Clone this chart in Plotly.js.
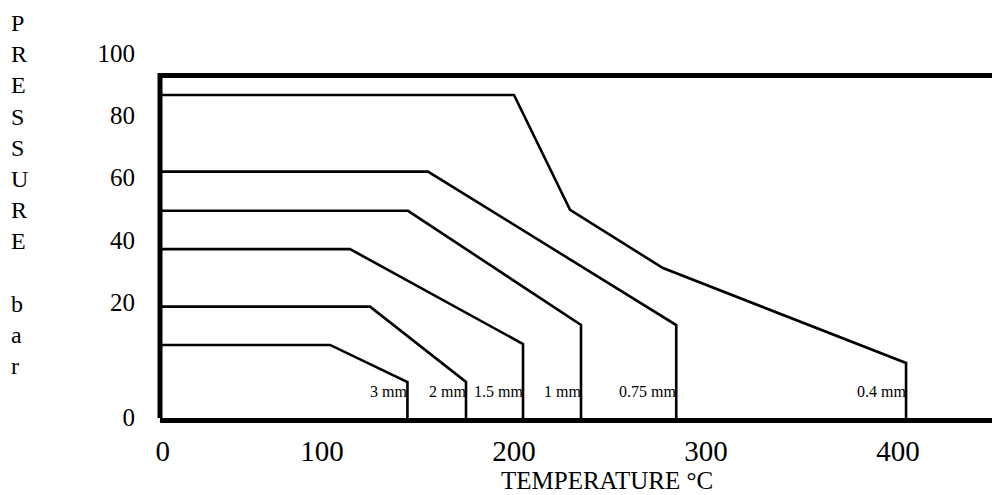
<!DOCTYPE html>
<html>
<head>
<meta charset="utf-8">
<script src="https://cdn.plot.ly/plotly-3.0.1.min.js"></script>
<style>html,body{margin:0;padding:0;background:#fff;}#chart{width:992px;height:495px;}</style>
</head>
<body>
<div id="chart"></div>
<script>
// ---- data ----
const thicknessLabels = ['3 mm', '2 mm', '1.5 mm', '1 mm', '0.75 mm', '0.4 mm'];
// temperature (°C) of each corner of a curve, starting at the end of its flat plateau
const cornerTemps = [
  [104.2, 144.5],
  [125.0, 175.0],
  [114.6, 204.7],
  [144.8, 234.9],
  [155.2, 284.5],
  [200.0, 229.2, 277.6, 404.2]
];
// pressure (bar) at each of those corners (first value = plateau pressure)
const cornerPressures = [
  [6.2, -5.7],
  [18.5, -5.7],
  [37.0, 6.5],
  [49.3, 12.6],
  [61.9, 12.6],
  [86.5, 49.6, 30.9, 0.4]
];
const xTickVals = [17.0, 100, 200, 300, 400];
const xTickText = ['0', '100', '200', '300', '400'];
const yTickVals = [-16.95, 20, 40, 60, 80, 100];
const yTickText = ['0', '20', '40', '60', '80', '100'];

// ---- axes / frame ----
const xRange = [15.625, 448.96];
const yRange = [-17.27, 107.39];
const frameTop = 92.77;
const FONT = 'Liberation Serif, Times New Roman, serif';

const traces = cornerTemps.map((temps, i) => {
  const ps = cornerPressures[i];
  return {
    type: 'scatter', mode: 'lines',
    x: [xRange[0]].concat(temps, [temps[temps.length - 1]]),
    y: [ps[0]].concat(ps, [yRange[0]]),
    line: {color: '#000', width: 2.6},
    hoverinfo: 'skip', showlegend: false, cliponaxis: false
  };
});

const annotations = cornerTemps.map((temps, i) => ({
  xref: 'x', yref: 'y', x: temps[temps.length - 1], y: -8.7,
  xanchor: 'right', yanchor: 'middle', showarrow: false,
  text: thicknessLabels[i], font: {family: FONT, size: 16, color: '#000'},
  borderpad: 0, borderwidth: 0
}));
annotations.push({
  xref: 'paper', yref: 'paper', x: -0.181, y: 0.575, xanchor: 'left', yanchor: 'middle',
  align: 'left', showarrow: false,
  text: 'P<br>R<br>E<br>S<br>S<br>U<br>R<br>E<br> <br>b<br>a<br>r',
  font: {family: FONT, size: 24, color: '#000'}
});
annotations.push({
  xref: 'paper', yref: 'paper', x: 0.5367, y: -0.1959, xanchor: 'center', yanchor: 'bottom',
  showarrow: false, text: 'TEMPERATURE °C', borderpad: 0, borderwidth: 0,
  font: {family: FONT, size: 25, color: '#000'}
});

const layout = {
  width: 992, height: 495,
  margin: {l: 160, r: 0, t: 30, b: 77, pad: 0},
  paper_bgcolor: '#fff', plot_bgcolor: '#fff',
  xaxis: {
    range: xRange, tickmode: 'array', tickvals: xTickVals, ticktext: xTickText,
    showgrid: false, zeroline: false, showline: true, linewidth: 5, linecolor: '#000',
    ticks: '', ticklabelstandoff: 3, tickfont: {family: FONT, size: 29, color: '#000'}, fixedrange: true
  },
  yaxis: {
    range: yRange, tickmode: 'array', tickvals: yTickVals, ticktext: yTickText,
    showgrid: false, zeroline: false, showline: false,
    ticks: '', ticklabelstandoff: 24, tickfont: {family: FONT, size: 25, color: '#000'}, fixedrange: true
  },
  shapes: [
    {type: 'line', xref: 'x domain', yref: 'y', x0: 0, x1: 1, y0: frameTop, y1: frameTop,
     line: {color: '#000', width: 5}},
    {type: 'line', xref: 'x domain', yref: 'y', x0: 0, x1: 0, y0: yRange[0] - 1.6, y1: frameTop + 0.8,
     line: {color: '#000', width: 5}}
  ],
  annotations: annotations
};

Plotly.newPlot('chart', traces, layout, {staticPlot: true, displayModeBar: false});
</script>
</body>
</html>
